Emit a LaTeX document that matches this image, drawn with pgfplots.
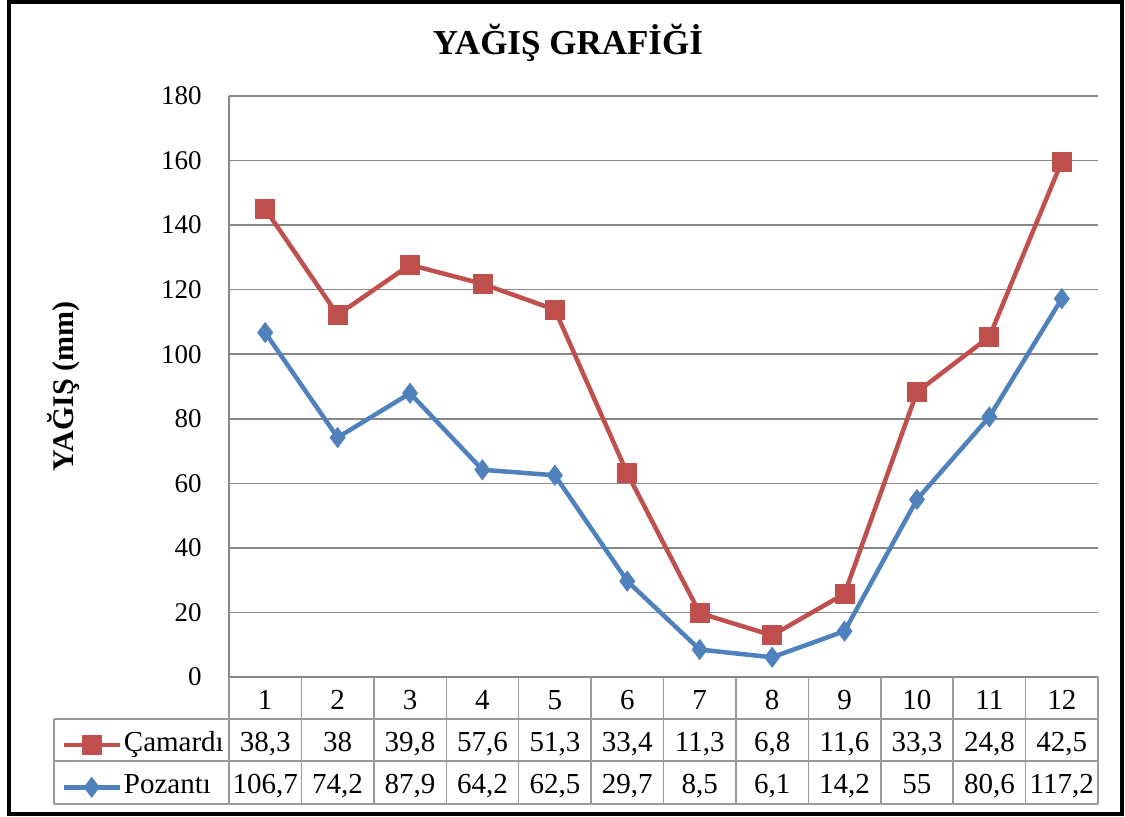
\documentclass[border=0pt]{standalone}
\usepackage{pgfplots}
\pgfplotsset{compat=1.18}
\usepackage{pgfplotstable}
\usepackage{fontspec}
\setmainfont{Liberation Serif}
\definecolor{camred}{HTML}{C0504D}
\definecolor{pozblue}{HTML}{4F81BD}
\definecolor{gridgray}{HTML}{878787}
\definecolor{tablegray}{HTML}{9A9A9A}

% raw monthly values (the chart stacks Camardi on top of Pozanti)
\pgfplotstableread{
ay cam poz
1 38.3 106.7
2 38.0 74.2
3 39.8 87.9
4 57.6 64.2
5 51.3 62.5
6 33.4 29.7
7 11.3 8.5
8 6.8 6.1
9 11.6 14.2
10 33.3 55.0
11 24.8 80.6
12 42.5 117.2
}\data

\begin{document}
\begin{tikzpicture}
\begin{axis}[
  scale only axis, width=434.5pt, height=290.5pt,
  xmin=0.5, xmax=12.5, ymin=0, ymax=180,
  ytick={0,20,...,180},
  xtick=\empty,
  ymajorgrids,
  major grid style={gridgray, line width=0.75pt},
  axis x line*=bottom, axis y line*=left,
  axis line style={gridgray, line width=0.75pt},
  major tick length=0pt,
  yticklabel style={font=\fontsize{13.5}{16}\selectfont, anchor=east, inner sep=0pt, xshift=-13.5pt},
  /pgf/number format/assume math mode=true,
  stack plots=y,
  clip=false,
  title={YAĞIŞ GRAFİĞİ},
  every axis title/.style={at={(axis description cs:0.390,1.0723)}, anchor=base, inner sep=0pt, font=\bfseries\fontsize{17.5}{21}\selectfont},
  ylabel={YAĞIŞ (mm)},
  ylabel style={at={(axis description cs:-0.19,0.5)}, anchor=center, inner sep=0pt, font=\bfseries\fontsize{15}{18}\selectfont},
  reverse legend,
  legend cell align=left,
  legend image code/.code={\draw[mark repeat=2,mark phase=2] plot coordinates {(0pt,0pt) (14pt,0pt) (28pt,0pt)};},
  legend style={at={(axis description cs:-0.1933,-0.1534)}, anchor=west, draw=none, fill=none,
    inner sep=0pt, column sep=1pt, row sep=7.65pt,
    nodes={inner sep=0pt, text height=10pt, text depth=3.5pt, font=\fontsize{14.5}{17}\selectfont}},
]
\addplot[pozblue, line width=2.25pt, mark=diamond*, mark size=5pt, mark options={solid, line width=0.4pt}]
  table[x=ay, y=poz] {\data};
\addlegendentry{Pozantı}
\addplot[camred, line width=2.25pt, mark=square*, mark size=4.75pt, mark options={solid, line width=0.4pt}]
  table[x=ay, y=cam] {\data};
\addlegendentry{Çamardı}
\coordinate (O) at (rel axis cs:0,0);
\end{axis}
\begin{scope}[shift={(O)}, x=1pt, y=1pt, font=\fontsize{14.5}{17}\selectfont]
  % table grid
  \foreach \k in {0,...,12} {
    \draw[tablegray, line width=0.75pt] ({\k*36.208333},0) -- ({\k*36.208333},-63.5);
  }
  \draw[tablegray, line width=0.75pt] (-87.5,-21) -- (-87.5,-63.5);
  \foreach \yy in {-21,-42,-63.5} {
    \draw[tablegray, line width=0.75pt] (-87.5,\yy) -- (434.5,\yy);
  }
  % header
  \foreach \k in {1,...,12} {
    \node[anchor=base, inner sep=0pt] at ({(\k-0.5)*36.208333},-16.4) {\k};
  }
  \foreach \v [count=\k] in {{38,3},{38},{39,8},{57,6},{51,3},{33,4},{11,3},{6,8},{11,6},{33,3},{24,8},{42,5}} {
    \node[anchor=base, inner sep=0pt] at ({(\k-0.5)*36.208333},-37.25) {\v};
  }
  \foreach \v [count=\k] in {{106,7},{74,2},{87,9},{64,2},{62,5},{29,7},{8,5},{6,1},{14,2},{55},{80,6},{117,2}} {
    \node[anchor=base, inner sep=0pt] at ({(\k-0.5)*36.208333},-58.4) {\v};
  }
  % outer frame and canvas
  \draw[black, line width=2pt] (-109.75,-68.5) rectangle (446.25,337.5);
  \path (-114.5,-69.5) rectangle (448,338.5);
\end{scope}
\end{tikzpicture}
\end{document}
